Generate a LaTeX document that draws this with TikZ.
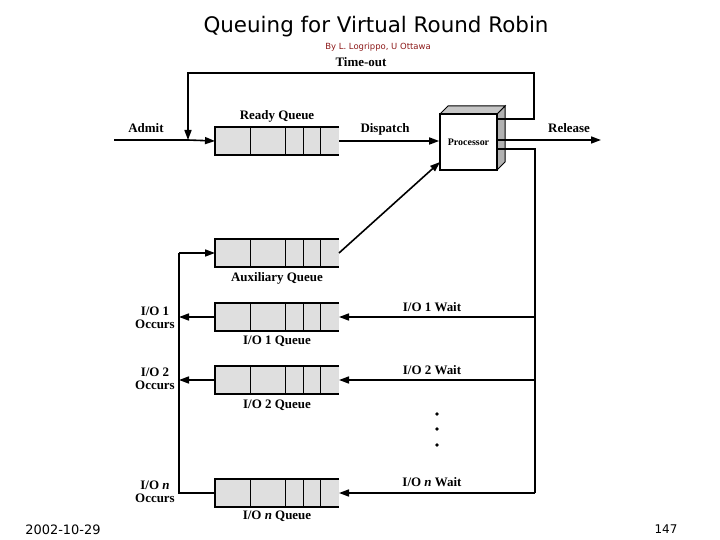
\documentclass[tikz,border=0pt]{standalone}
\usepackage{fontspec}
\setmainfont{Liberation Serif}
\newfontfamily\ttl{DejaVu Sans}
\usetikzlibrary{arrows.meta}
\begin{document}
\begin{tikzpicture}[x=1bp,y=-1bp,
  ln/.style={line width=1.6bp},
  ar/.style={ln,-{Triangle[length=10bp,width=7bp]}},
  lb/.style={font=\bfseries\fontsize{13}{13.5}\selectfont,align=center,inner sep=0}]
\useasboundingbox (0,0) rectangle (720,540);
\node (title) at (376,27) {\ttl\fontsize{21.5}{22}\selectfont Queuing for Virtual Round Robin};
\node (by) at (378,47) {\ttl\fontsize{8.5}{9}\selectfont\color[rgb]{0.55,0.1,0.1}By L. Logrippo, U Ottawa};
\node (date) at (63,530) {\ttl\fontsize{13}{14}\selectfont 2002-10-29};
\node (pg) at (666,529) {\ttl\fontsize{12}{13}\selectfont 147};
% queues
\foreach \n/\yt in {rq/127,aq/239,q1/303,q2/366,qn/479}{
  \fill[gray!25] (215,\yt) rectangle (339,\yt+28);
  \draw (250,\yt) -- (250,\yt+28) (285,\yt) -- (285,\yt+28) (303,\yt) -- (303,\yt+28) (320,\yt) -- (320,\yt+28);
  \draw[line width=2.4bp] (339,\yt) -- (215,\yt) -- (215,\yt+28) -- (339,\yt+28);
  \coordinate (\n) at (277,\yt+14);
  \coordinate (\n L) at (215,\yt+14);
  \coordinate (\n R) at (339,\yt+14);
}
\node[lb] (rql) at (277,116) {Ready Queue};
\node[lb] (aql) at (277,278) {Auxiliary Queue};
\node[lb] (q1l) at (277,341) {I/O 1 Queue};
\node[lb] (q2l) at (277,405) {I/O 2 Queue};
\node[lb] (qnl) at (277,516) {I/O \textit{n} Queue};
% processor
\fill[gray!60,draw=black,line width=1bp] (497,114) -- (505,106) -- (505,162) -- (497,170) -- cycle;
\fill[gray!45,draw=black,line width=1bp] (440,114) -- (448,106) -- (505,106) -- (497,114) -- cycle;
\node[draw,line width=1.6bp,fill=white,minimum width=57bp,minimum height=56bp,inner sep=0,
  font=\bfseries\fontsize{10}{11}\selectfont] (proc) at (468.5,142) {Processor};
\coordinate (pTO) at (497,119);
\coordinate (pR) at (497,140);
\coordinate (pIO) at (497,149);
% top flow
\coordinate (adm) at (114,140);
\coordinate (toj) at (188,140);
\draw[ln] (adm) -- (toj);
\draw[ar] (toj) -- (rqL);
\node[lb] (admit) at (146,128) {Admit};
\draw[ar] (rqR) -- (proc.west |- rqR);
\node[lb] (disp) at (385,129) {Dispatch};
\coordinate (rel) at (601,140);
\draw[ar] (pR) -- (rel);
\node[lb] (rell) at (569,128) {Release};
\draw[ar] (pTO) -- (534,119) -- (534,73) -- (188,73) -- (toj);
\node[lb] (to) at (361,62) {Time-out};
\draw[ar] (aqR) -- (440,162);
% io
\coordinate (vr) at (535,493);
\draw[ln] (pIO) -- (535,149) -- (vr);
\draw[ar] (535,317) -- (q1R);
\draw[ar] (535,380) -- (q2R);
\draw[ar] (vr) -- (qnR);
\node[lb] (w1) at (432,307) {I/O 1 Wait};
\node[lb] (w2) at (432,370) {I/O 2 Wait};
\node[lb] (wn) at (432,482) {I/O \textit{n} Wait};
\foreach \yy in {414,429,445} \fill (437,\yy) circle (1.8bp);
\draw[ar] (q1L) -- (179,317);
\draw[ar] (q2L) -- (179,380);
\draw[ln] (qnL) -- (179,493) -- (179,253);
\draw[ar] (179,253) -- (aqL);
\node[lb] (o1) at (155,318) {I/O 1\\Occurs};
\node[lb] (o2) at (155,379) {I/O 2\\Occurs};
\node[lb] (on) at (155,492) {I/O \textit{n}\\Occurs};
\end{tikzpicture}
\end{document}
